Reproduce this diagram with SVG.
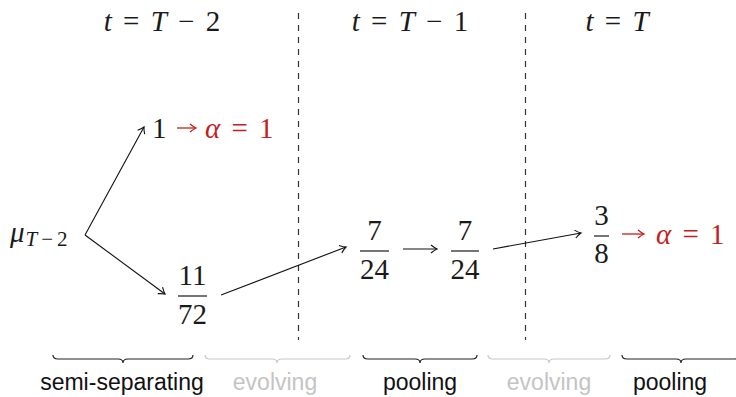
<svg xmlns="http://www.w3.org/2000/svg" width="736" height="397" viewBox="0 0 736 397">
<style>
.m{font-family:"Liberation Serif","DejaVu Serif",serif;font-size:29px;fill:#1a1a1a;word-spacing:4px}
.i{font-style:italic}
.red{fill:#c41e1e}
.sub{font-size:21px;letter-spacing:4px}
.lbl{font-family:"Liberation Sans","DejaVu Sans",sans-serif;font-size:23px;text-anchor:middle}
.blk{fill:#111}
.gry{fill:#c4c4c4}
.bar{stroke:#1a1a1a;stroke-width:1.2}
.div{stroke:#333;stroke-width:1.2;stroke-dasharray:6 6}
.conn{stroke:#111;stroke-width:1.1;fill:none;marker-end:url(#ah)}
.rconn{stroke:#c41e1e;stroke-width:1.3;fill:none;marker-end:url(#ahr)}
.br{fill:none;stroke-width:1.2}
.brk{stroke:#222}
.brg{stroke:#c8c8c8}
</style>
<defs>
<marker id="ah" markerWidth="12" markerHeight="12" refX="0" refY="0" viewBox="-8 -6 10 12" orient="auto" markerUnits="userSpaceOnUse">
<path d="M-6,-4 Q-2,-0.8 0,0 Q-2,0.8 -6,4" fill="none" stroke="#111" stroke-width="1.1"/>
</marker>
<marker id="ahr" markerWidth="12" markerHeight="12" refX="0" refY="0" viewBox="-8 -6 10 12" orient="auto" markerUnits="userSpaceOnUse">
<path d="M-6,-4 Q-2,-0.8 0,0 Q-2,0.8 -6,4" fill="none" stroke="#c41e1e" stroke-width="1.3"/>
</marker>
</defs>
<rect width="736" height="397" fill="#fff"/>

<g id="titles">
<text class="m" x="162" y="31" text-anchor="middle"><tspan class="i">t</tspan> = <tspan class="i">T</tspan> − 2</text>
<text class="m" x="410" y="31" text-anchor="middle"><tspan class="i">t</tspan> = <tspan class="i">T</tspan> − 1</text>
<text class="m" x="617" y="31" text-anchor="middle"><tspan class="i">t</tspan> = <tspan class="i">T</tspan></text>
</g>

<g id="dividers">
<line class="div" x1="298.5" y1="13" x2="298.5" y2="340"/>
<line class="div" x1="525.5" y1="13" x2="525.5" y2="340"/>
</g>

<g id="node-mu">
<text class="m" x="10" y="242"><tspan class="i">μ</tspan><tspan class="sub i" dx="1" dy="4">T</tspan><tspan class="sub">−2</tspan></text>
</g>

<g id="node-one">
<text class="m" x="152" y="138">1</text>
<line class="rconn" x1="177" y1="128" x2="196" y2="128"/>
<text class="m red" x="205" y="138"><tspan class="i">α</tspan> = 1</text>
</g>

<g id="node-11-72">
<text class="m" x="192.5" y="285" text-anchor="middle">11</text>
<line class="bar" x1="178" y1="296" x2="207" y2="296"/>
<text class="m" x="192.5" y="324" text-anchor="middle">72</text>
</g>

<g id="node-7-24-a">
<text class="m" x="374.5" y="240" text-anchor="middle">7</text>
<line class="bar" x1="360" y1="251" x2="389" y2="251"/>
<text class="m" x="374.5" y="279" text-anchor="middle">24</text>
</g>

<g id="node-7-24-b">
<text class="m" x="465" y="240" text-anchor="middle">7</text>
<line class="bar" x1="451" y1="251" x2="479" y2="251"/>
<text class="m" x="465" y="279" text-anchor="middle">24</text>
</g>

<g id="node-3-8">
<text class="m" x="601.5" y="225" text-anchor="middle">3</text>
<line class="bar" x1="594" y1="236" x2="609" y2="236"/>
<text class="m" x="601.5" y="263" text-anchor="middle">8</text>
<line class="rconn" x1="622" y1="234" x2="644" y2="234"/>
<text class="m red" x="656" y="244"><tspan class="i">α</tspan> = 1</text>
</g>

<g id="connectors">
<line class="conn" x1="85" y1="235" x2="144" y2="127"/>
<line class="conn" x1="85" y1="235" x2="165" y2="294"/>
<line class="conn" x1="221" y1="295" x2="346" y2="247"/>
<line class="conn" x1="403" y1="249" x2="437" y2="249"/>
<line class="conn" x1="493" y1="249" x2="581" y2="233"/>
</g>

<g id="brace-1">
<path class="br brk" d="M53,355 Q53,359 58,359 L118,359 Q123,359 123,363 Q123,359 128,359 L188,359 Q193,359 193,355"/>
<text class="lbl blk" x="122" y="390">semi-separating</text>
</g>
<g id="brace-2">
<path class="br brg" d="M205,355 Q205,359 210,359 L272,359 Q277,359 277,363 Q277,359 282,359 L345,359 Q350,359 350,355"/>
<text class="lbl gry" x="275" y="390">evolving</text>
</g>
<g id="brace-3">
<path class="br brk" d="M363,355 Q363,359 368,359 L415,359 Q420,359 420,363 Q420,359 425,359 L472,359 Q477,359 477,355"/>
<text class="lbl blk" x="420" y="390">pooling</text>
</g>
<g id="brace-4">
<path class="br brg" d="M488,355 Q488,359 493,359 L544,359 Q549,359 549,363 Q549,359 554,359 L605,359 Q610,359 610,355"/>
<text class="lbl gry" x="549" y="390">evolving</text>
</g>
<g id="brace-5">
<path class="br brk" d="M622,355 Q622,359 627,359 L676,359 Q681,359 681,363 Q681,359 686,359 L735,359 Q740,359 740,355"/>
<text class="lbl blk" x="670" y="390">pooling</text>
</g>
</svg>
